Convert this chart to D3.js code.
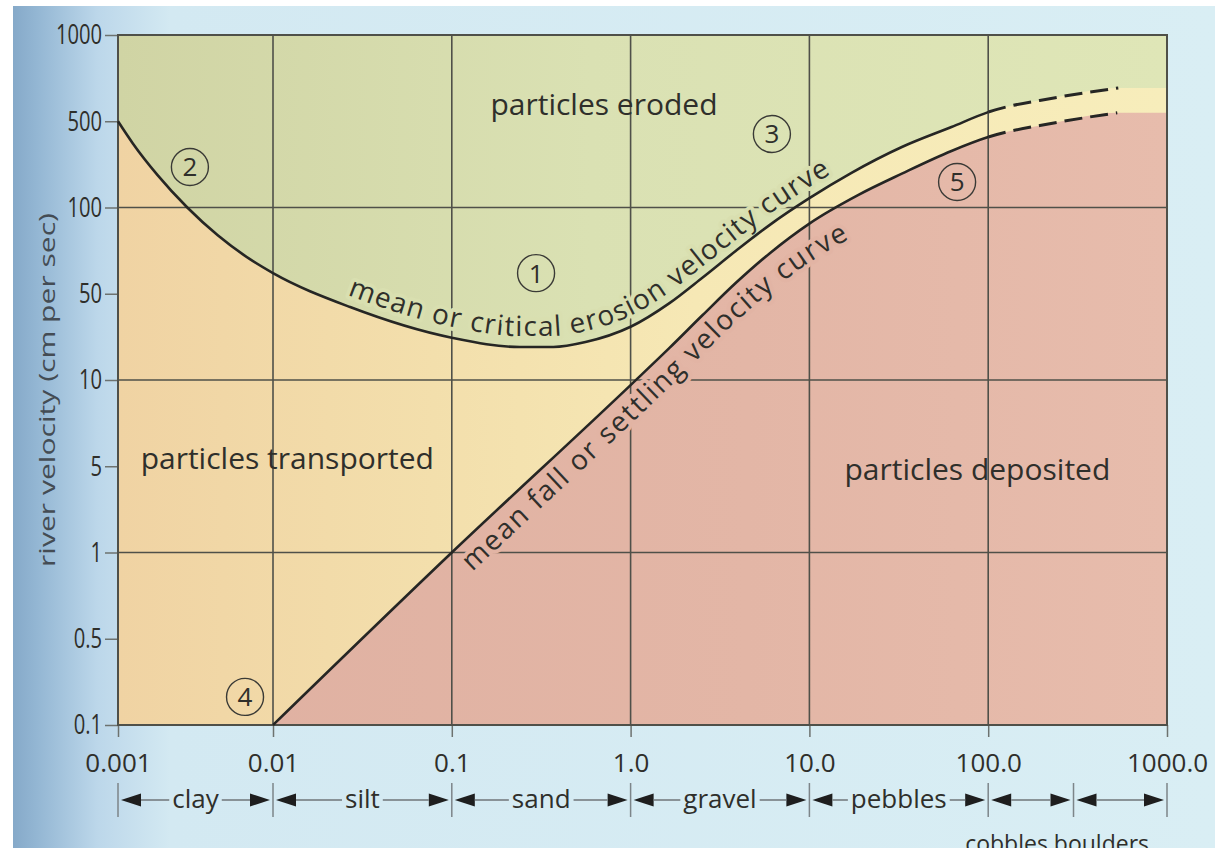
<!DOCTYPE html>
<html>
<head>
<meta charset="utf-8">
<script src="https://cdn.jsdelivr.net/npm/d3@7"></script>
<style>
body { margin: 0; background: #fff; }
text { font-family: "Open Sans", "Noto Sans", sans-serif; fill: #2f2f2b; }
</style>
</head>
<body>
<script>
//grain size ticks (mm) along x, river velocity ticks (cm/s) along y
var sizeTicks = [0.001, 0.01, 0.1, 1, 10, 100, 1000];
var sizeLabels = ["0.001", "0.01", "0.1", "1.0", "10.0", "100.0", "1000.0"];
var velTicks = [0.1, 0.5, 1, 5, 10, 50, 100, 500, 1000];
var velGrid = [1, 10, 100];

//mean or critical erosion velocity curve
var erosionSize = [0.001, 0.00125, 0.0018, 0.0028, 0.0044, 0.0071, 0.01, 0.027, 0.1, 0.24, 0.37, 0.56, 1, 1.65, 2.53, 3.87, 6.01, 10, 17.1, 32.9, 62.3, 100];
var erosionVel  = [500, 329, 183, 100, 80, 66, 59, 39, 22, 18.5, 18.5, 20.3, 27, 42, 57, 70.5, 87, 119, 190, 309, 449, 538];
var erosionDashSize = [100, 233, 534];
var erosionDashVel  = [538, 603, 653];

//mean fall or settling velocity curve
var settlingSize = [0.01, 0.1, 1, 1.65, 2.53, 3.87, 6.01, 10, 18.7, 32.9, 62.3, 100];
var settlingVel  = [0.1, 1, 9.6, 18.2, 33.6, 54.5, 69.3, 87.9, 126, 188, 287, 372];
var settlingDashSize = [100, 233, 527];
var settlingDashVel  = [372, 484, 535];

//particle size classes
var classNames = ["clay", "silt", "sand", "gravel", "pebbles", "cobbles", "boulders"];
var classBounds = [0.001, 0.01, 0.1, 1, 10, 100, 300, 1000];

//circled annotation numbers
var markerNums = ["1", "2", "3", "4", "5"];
var markerSize = [0.296, 0.00291, 6.17, 0.0066, 67];
var markerVel  = [59, 213, 394, 0.169, 161];

(function(){

var W = 1215, H = 848;
var pLeft = 118, pRight = 1167, pTop = 35, pBottom = 725, firstDecade = 155;

var svg = d3.select("body").append("svg")
    .attr("width", W)
    .attr("height", H);
var defs = svg.append("defs");

function gradient(id, stops, x1, x2){
    var g = defs.append("linearGradient")
        .attr("id", id)
        .attr("gradientUnits", "userSpaceOnUse")
        .attr("x1", x1).attr("x2", x2)
        .attr("y1", 0).attr("y2", 0);
    stops.forEach(function(s){
        g.append("stop").attr("offset", s[0]).attr("stop-color", s[1]);
    });
}
gradient("pageGrad", [[0, "#7ea2c3"], [0.03, "#93b6d3"], [0.08, "#bcd7ea"], [0.14, "#d3e9f2"], [1, "#d9eef4"]], 0, W);
gradient("transGrad", [[0, "#f0d3a3"], [0.3, "#f3dfac"], [0.55, "#f6e8b5"], [1, "#f7edbb"]], pLeft, pRight);
gradient("erodeGrad", [[0, "#d0d4a4"], [0.45, "#dae1b3"], [1, "#dfe6b7"]], pLeft, pRight);
gradient("depoGrad", [[0, "#dfb0a1"], [0.6, "#e3b6a6"], [1, "#e7bcac"]], pLeft, pRight);

//page background
svg.append("rect").attr("width", W).attr("height", H).attr("fill", "#fff");
svg.append("rect").attr("x", 13).attr("y", 6)
    .attr("width", W - 13).attr("height", H - 6)
    .attr("fill", "url(#pageGrad)");

//scales: log x with a shorter first decade, y with evenly spaced ticks
var x = d3.scaleLog()
    .domain([0.001, 0.01, 1000])
    .range([pLeft, pLeft + firstDecade, pRight]);

var yStep = (pBottom - pTop) / (velTicks.length - 1);
var y = d3.scaleLog()
    .domain(velTicks)
    .range(velTicks.map(function(d, i){ return pBottom - i * yStep; }));

function zip(a, b){ return a.map(function(d, i){ return [d, b[i]]; }); }
var erosion = zip(erosionSize, erosionVel);
var erosionAll = erosion.concat(zip(erosionDashSize, erosionDashVel).slice(1));
var settling = zip(settlingSize, settlingVel);
var settlingAll = settling.concat(zip(settlingDashSize, settlingDashVel).slice(1));

//transported (background of plot)
svg.append("rect")
    .attr("x", pLeft).attr("y", pTop)
    .attr("width", pRight - pLeft).attr("height", pBottom - pTop)
    .attr("fill", "url(#transGrad)");

//eroded region above erosion curve
var erodeFill = erosionAll.concat([[1000, erosionDashVel[erosionDashVel.length - 1]]]);
svg.append("path")
    .datum(erodeFill)
    .attr("fill", "url(#erodeGrad)")
    .attr("d", d3.area()
        .x(function(d){ return x(d[0]); })
        .y0(pTop)
        .y1(function(d){ return y(d[1]); })
        .curve(d3.curveMonotoneX));

//deposited region below settling curve
var depoFill = settlingAll.concat([[1000, settlingDashVel[settlingDashVel.length - 1]]]);
svg.append("path")
    .datum(depoFill)
    .attr("fill", "url(#depoGrad)")
    .attr("d", d3.area()
        .x(function(d){ return x(d[0]); })
        .y0(pBottom)
        .y1(function(d){ return y(d[1]); })
        .curve(d3.curveMonotoneX));

//grid
var gridColor = "#4f5049";
svg.append("g").selectAll("line")
    .data(sizeTicks.slice(1, -1))
    .enter().append("line")
    .attr("x1", function(d){ return x(d); })
    .attr("x2", function(d){ return x(d); })
    .attr("y1", pTop).attr("y2", pBottom)
    .attr("stroke", gridColor).attr("stroke-width", 1.6);
svg.append("g").selectAll("line")
    .data(velGrid)
    .enter().append("line")
    .attr("x1", pLeft).attr("x2", pRight)
    .attr("y1", function(d){ return y(d); })
    .attr("y2", function(d){ return y(d); })
    .attr("stroke", gridColor).attr("stroke-width", 1.6);

//axes
var xAxis = d3.axisBottom(x)
    .tickValues(sizeTicks)
    .tickFormat(function(d, i){ return sizeLabels[i]; })
    .tickSize(12)
    .tickPadding(17);
var gx = svg.append("g")
    .attr("transform", "translate(0," + pBottom + ")")
    .call(xAxis)
    .attr("font-family", "Open Sans, sans-serif")
    .attr("font-size", 26);
gx.select(".domain").remove();
gx.selectAll("line").attr("stroke", "#6d726f").attr("stroke-width", 1.5);
gx.selectAll("text").attr("fill", "#333");

//y labels are narrow in the original, squeeze them horizontally
var ySqueeze = 0.72;
var yAxis = d3.axisLeft(y)
    .tickValues(velTicks)
    .tickFormat(function(d){ return String(d); })
    .tickSize(13)
    .tickPadding(3);
var gy = svg.append("g")
    .attr("transform", "translate(" + pLeft + ",0)")
    .call(yAxis)
    .attr("font-family", "Open Sans, sans-serif")
    .attr("font-size", 28);
gy.select(".domain").remove();
gy.selectAll("line").attr("stroke", "#6d726f").attr("stroke-width", 1.5);
gy.selectAll("text")
    .attr("fill", "#3a3a3a")
    .attr("x", -16 / ySqueeze)
    .attr("transform", "scale(" + ySqueeze + ",1)");

//frame
svg.append("rect")
    .attr("x", pLeft).attr("y", pTop)
    .attr("width", pRight - pLeft).attr("height", pBottom - pTop)
    .attr("fill", "none")
    .attr("stroke", gridColor).attr("stroke-width", 2);

//y axis title
svg.append("text")
    .attr("transform", "translate(55," + ((pTop + pBottom) / 2 + 10) + ") rotate(-90)")
    .attr("text-anchor", "middle")
    .attr("font-size", 22)
    .attr("textLength", 354)
    .attr("lengthAdjust", "spacingAndGlyphs")
    .style("fill", "#444c54")
    .text("river velocity (cm per sec)");

//region labels
svg.append("text")
    .attr("x", x(0.71)).attr("y", y(525))
    .attr("text-anchor", "middle")
    .attr("font-size", 30)
    .text("particles eroded");
svg.append("text")
    .attr("x", x(0.0014)).attr("y", y(5) + 3)
    .attr("font-size", 30)
    .text("particles transported");
svg.append("text")
    .attr("x", x(87)).attr("y", y(5) + 14)
    .attr("text-anchor", "middle")
    .attr("font-size", 30)
    .text("particles deposited");

//curve labels follow the curves, with a halo cutting the grid
function lengthAtX(node, px){
    var lo = 0, hi = node.getTotalLength();
    for (var k = 0; k < 40; k++){
        var mid = (lo + hi) / 2;
        if (node.getPointAtLength(mid).x < px) lo = mid; else hi = mid;
    }
    return lo;
}
function curveLabel(id, pts, shift, fromSize, toSize, label, halo){
    var p = svg.append("path")
        .attr("id", id)
        .attr("fill", "none")
        .attr("d", d3.line()
            .x(function(d){ return x(d[0]); })
            .y(function(d){ return y(d[1]) + shift; })
            .curve(d3.curveMonotoneX)(pts));
    var s0 = lengthAtX(p.node(), x(fromSize)),
        s1 = lengthAtX(p.node(), x(toSize));
    svg.append("text")
        .attr("font-size", 28)
        .style("stroke", halo)
        .style("stroke-width", 8)
        .style("stroke-linejoin", "round")
        .style("paint-order", "stroke")
        .append("textPath")
        .attr("href", "#" + id)
        .attr("startOffset", s0)
        .attr("textLength", s1 - s0)
        .attr("lengthAdjust", "spacing")
        .text(label);
}
curveLabel("erosionLabel", erosion, -11, 0.026, 13.2, "mean or critical erosion velocity curve", "#d9dfb0");
curveLabel("settlingLabel", settling, 39, 0.13, 16.7, "mean fall or settling velocity curve", "#e2b4a4");

//curves: solid up to 100 mm, dashed beyond (same geometry, clipped)
defs.append("clipPath").attr("id", "clipSolid").append("rect")
    .attr("x", 0).attr("y", 0).attr("width", x(100)).attr("height", H);
defs.append("clipPath").attr("id", "clipDash").append("rect")
    .attr("x", x(100)).attr("y", 0).attr("width", W - x(100)).attr("height", H);

var line = d3.line()
    .x(function(d){ return x(d[0]); })
    .y(function(d){ return y(d[1]); })
    .curve(d3.curveMonotoneX);
[erosionAll, settlingAll].forEach(function(pts){
    svg.append("path")
        .datum(pts)
        .attr("d", line)
        .attr("clip-path", "url(#clipSolid)")
        .attr("fill", "none")
        .attr("stroke", "#262624")
        .attr("stroke-width", 2.6);
    var dash = svg.append("path")
        .datum(pts)
        .attr("d", line)
        .attr("clip-path", "url(#clipDash)")
        .attr("fill", "none")
        .attr("stroke", "#262624")
        .attr("stroke-width", 3)
        .attr("stroke-dasharray", "18,8");
    dash.attr("stroke-dashoffset", -lengthAtX(dash.node(), x(100)));
});

//circled numbers
var marks = svg.append("g").selectAll("g")
    .data(markerNums)
    .enter().append("g")
    .attr("transform", function(d, i){
        return "translate(" + x(markerSize[i]) + "," + y(markerVel[i]) + ")";
    });
marks.append("circle")
    .attr("r", 18.5)
    .attr("fill", "none")
    .attr("stroke", "#3a3a36")
    .attr("stroke-width", 1.4);
marks.append("text")
    .attr("text-anchor", "middle")
    .attr("dy", "0.36em")
    .attr("font-size", 26)
    .text(function(d){ return d; });

//particle size classes row
var rowY = 800;
var row = svg.append("g");
row.selectAll("line.sep")
    .data(classBounds)
    .enter().append("line")
    .attr("class", "sep")
    .attr("x1", function(d){ return x(d); })
    .attr("x2", function(d){ return x(d); })
    .attr("y1", rowY - 17).attr("y2", rowY + 17)
    .attr("stroke", "#7d8589").attr("stroke-width", 1.5);

var below = [];
classNames.forEach(function(name, i){
    var x0 = x(classBounds[i]) + 3,
        x1 = x(classBounds[i + 1]) - 3,
        aw = 20, ah = 6.5;
    row.append("path")
        .attr("d", "M" + x0 + "," + rowY + "L" + (x0 + aw) + "," + (rowY - ah) + "L" + (x0 + aw) + "," + (rowY + ah) + "Z")
        .attr("fill", "#1e1e1e");
    row.append("path")
        .attr("d", "M" + x1 + "," + rowY + "L" + (x1 - aw) + "," + (rowY - ah) + "L" + (x1 - aw) + "," + (rowY + ah) + "Z")
        .attr("fill", "#1e1e1e");
    var segs;
    if (x1 - x0 > 130){
        var mid = (x0 + x1) / 2;
        var t = row.append("text")
            .attr("x", mid).attr("y", rowY + 8)
            .attr("text-anchor", "middle")
            .attr("font-size", 26)
            .text(name);
        var w = t.node().getComputedTextLength();
        segs = [[x0 + aw, mid - w / 2 - 3], [mid + w / 2 + 3, x1 - aw]];
    } else {
        segs = [[x0 + aw, x1 - aw]];
        below.push(name);
    }
    segs.forEach(function(s){
        if (s[1] > s[0]) row.append("line")
            .attr("x1", s[0]).attr("x2", s[1])
            .attr("y1", rowY).attr("y2", rowY)
            .attr("stroke", "#6f7478").attr("stroke-width", 1.5);
    });
});
row.append("text")
    .attr("x", x(1000) - 18).attr("y", 852)
    .attr("text-anchor", "end")
    .attr("font-size", 23)
    .text(below.join(" "));

})();
</script>
</body>
</html>
